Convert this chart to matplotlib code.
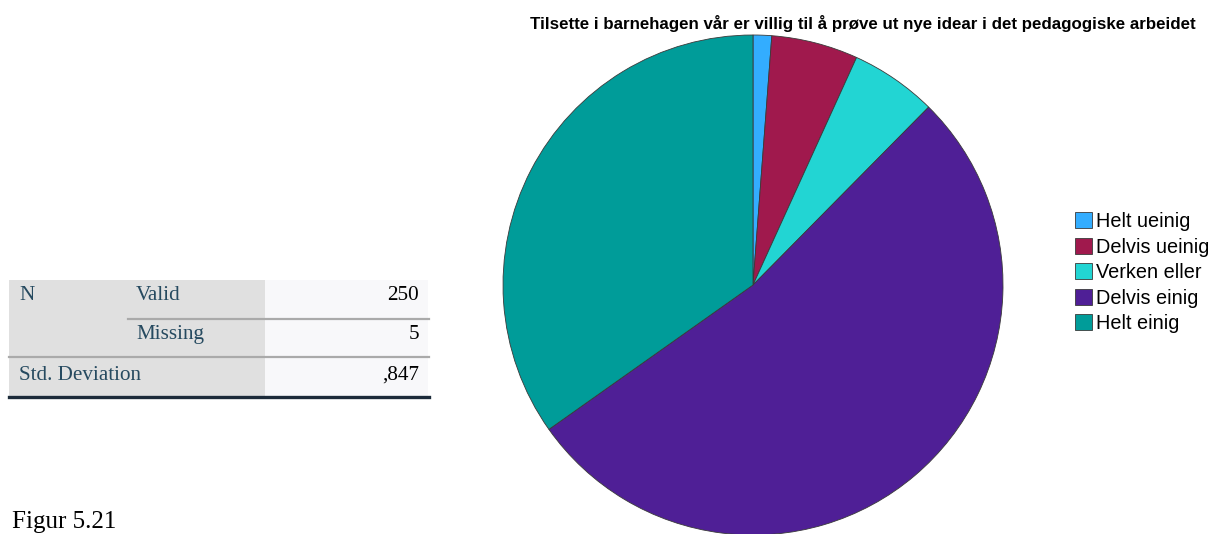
import matplotlib.pyplot as plt
from matplotlib.patches import Rectangle
from matplotlib.lines import Line2D

categories = ["Helt ueinig", "Delvis ueinig", "Verken eller", "Delvis einig", "Helt einig"]
counts = [3, 14, 14, 132, 87]
colors = ["#33adff", "#a0194d", "#22d5d3", "#4f1f96", "#009c99"]

title = "Tilsette i barnehagen vår er villig til å prøve ut nye idear i det pedagogiske arbeidet"
table_rows = [("N", "Valid", "250"), ("", "Missing", "5"), ("Std. Deviation", "", ",847")]
caption = "Figur 5.21"

W, H = 1213, 534
fig = plt.figure(figsize=(W / 100, H / 100), dpi=100)


def fx(px):
    return px / W


def fy(py):
    return 1 - py / H


# pie
cx, cy, r = 753, 285, 250
ax = fig.add_axes([fx(cx - r), fy(cy + r), 2 * r / W, 2 * r / H])
wedges, _ = ax.pie(counts, colors=colors, startangle=90, counterclock=False,
                   radius=1, wedgeprops=dict(edgecolor="#3a3a3a", linewidth=0.6))
ax.set_xlim(-1, 1)
ax.set_ylim(-1, 1)
ax.set_aspect("auto")
ax.axis("off")

fig.text(fx(863), fy(23), title, ha="center", va="center",
         fontsize=12.2, fontweight="bold", family="Liberation Sans")

leg = fig.legend(wedges, categories, loc="upper left",
                 bbox_to_anchor=(fx(1075), fy(212)), frameon=False,
                 prop=dict(family="Liberation Sans", size=14.3),
                 handlelength=0.88, handleheight=0.88, handletextpad=0.2,
                 labelspacing=0.33, borderpad=0, borderaxespad=0)

# statistics table
fig.patches.append(Rectangle((fx(9), fy(396)), fx(265) - fx(9), fy(280) - fy(396),
                             transform=fig.transFigure, facecolor="#e0e0e0",
                             edgecolor="none", zorder=0))
fig.patches.append(Rectangle((fx(265), fy(396)), fx(428) - fx(265), fy(280) - fy(396),
                             transform=fig.transFigure, facecolor="#f8f8fa",
                             edgecolor="none", zorder=0))
fig.lines.append(Line2D([fx(128), fx(429)], [fy(319), fy(319)], transform=fig.transFigure,
                        color="#aaaaaa", linewidth=1.6))
fig.lines.append(Line2D([fx(9), fx(429)], [fy(357), fy(357)], transform=fig.transFigure,
                        color="#aaaaaa", linewidth=1.6))
fig.lines.append(Line2D([fx(9), fx(429)], [fy(397), fy(397)], transform=fig.transFigure,
                        color="#1c2b3a", linewidth=2.4))

label_color = "#264a60"
row_y = [300, 339, 380]
for (a, b, v), y in zip(table_rows, row_y):
    if a:
        fig.text(fx(19), fy(y), a, ha="left", va="baseline", fontsize=15.2,
                 family="Liberation Serif", color=label_color)
    if b:
        fig.text(fx(136), fy(y), b, ha="left", va="baseline", fontsize=15.2,
                 family="Liberation Serif", color=label_color)
    fig.text(fx(419), fy(y), v, ha="right", va="baseline", fontsize=15.2,
             family="Liberation Serif", color="black")

fig.text(fx(12), fy(528), caption, ha="left", va="baseline", fontsize=18,
         family="Liberation Serif", color="black")

fig.savefig("out.png", dpi=100)
